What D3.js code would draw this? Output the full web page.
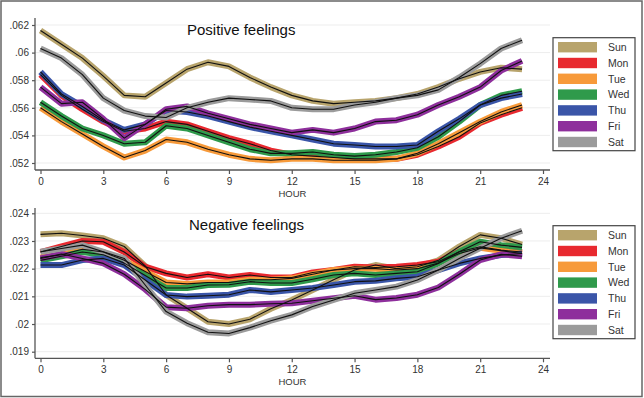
<!DOCTYPE html>
<html>
<head>
<meta charset="utf-8">
<script src="https://cdn.jsdelivr.net/npm/d3@7"></script>
<style>
  body { margin: 0; background: #fff; }
  svg { display: block; font-family: "Liberation Sans", Arial, sans-serif; }
</style>
</head>
<body>
<svg id="chart" width="644" height="398"></svg>
<script>
const hours = [0, 1, 2, 3, 4, 5, 6, 7, 8, 9, 10, 11, 12, 13, 14, 15, 16, 17, 18, 19, 20, 21, 22, 23];
const days = ["Sun", "Mon", "Tue", "Wed", "Thu", "Fri", "Sat"];
const dayColors = ["#b8a46c", "#e8292f", "#f79a3a", "#2f9a4b", "#3a55a8", "#8e2f9c", "#9b9b9b"];

const hourTicks = [0, 3, 6, 9, 12, 15, 18, 21, 24];
const posTicks = [.052, .054, .056, .058, .06, .062];
const posTickLabels = [".052", ".054", ".056", ".058", ".06", ".062"];
const negTicks = [.019, .02, .021, .022, .023, .024];
const negTickLabels = [".019", ".02", ".021", ".022", ".023", ".024"];

// Positive feelings, by hour
const posSun = [.0616, .0606, .0596, .0583, .0569, .0568, .0578, .0588, .0593, .0590, .0582, .0575, .0569, .0565, .0563, .0564, .0565, .0567, .0570, .0575, .0581, .0586, .0589, .0588];
const posMon = [.0584, .0569, .0559, .0550, .0543, .0545, .0550, .0548, .0543, .0538, .0534, .0529, .0526, .0525, .0524, .0523, .0523, .0523, .0526, .0532, .0539, .0549, .0555, .0560];
const posTue = [.0560, .0550, .0541, .0532, .0524, .0529, .0537, .0535, .0530, .0526, .0523, .0522, .0523, .0523, .0522, .0522, .0522, .0523, .0527, .0534, .0542, .0550, .0557, .0562];
const posWed = [.0564, .0554, .0545, .0540, .0534, .0535, .0547, .0545, .0540, .0535, .0530, .0527, .0527, .0528, .0526, .0525, .0526, .0528, .0531, .0539, .0550, .0562, .0569, .0572];
const posThu = [.0586, .0570, .0561, .0551, .0544, .0548, .0558, .0557, .0554, .0550, .0546, .0543, .0540, .0537, .0534, .0533, .0532, .0532, .0533, .0543, .0552, .0562, .0567, .0570];
const posFri = [.0575, .0563, .0564, .0552, .0538, .0548, .0559, .0561, .0556, .0552, .0548, .0545, .0542, .0544, .0542, .0545, .0550, .0551, .0555, .0562, .0568, .0575, .0587, .0594];
const posSat = [.0603, .0596, .0584, .0567, .0558, .0554, .0553, .0560, .0564, .0567, .0566, .0565, .0560, .0559, .0559, .0562, .0564, .0567, .0569, .0573, .0582, .0592, .0603, .0609];

// Negative feelings, by hour
const negSun = [.02324, .02328, .0232, .0231, .0228, .0221, .02105, .02057, .02008, .0200, .02017, .02055, .02087, .02123, .0216, .02195, .02213, .0220, .02207, .0223, .0228, .02322, .0231, .02287];
const negMon = [.0226, .0228, .0230, .02297, .0226, .02207, .02183, .02168, .0218, .02168, .02177, .02168, .02168, .02186, .02195, .02207, .02204, .02207, .02213, .02225, .02261, .02279, .02267, .0226];
const negTue = [.0224, .0225, .0227, .0226, .0223, .0219, .0215, .02145, .0215, .0215, .0216, .0216, .02165, .0218, .02195, .0220, .0220, .02195, .0220, .0222, .02255, .02275, .02265, .02255];
const negWed = [.0223, .02245, .0226, .0225, .0222, .02175, .0213, .0213, .02141, .02142, .02153, .02148, .02148, .02162, .02177, .02183, .02177, .02183, .02189, .02219, .02261, .02297, .02285, .02277];
const negThu = [.02213, .02213, .02231, .02237, .02213, .02159, .02105, .02099, .02102, .02106, .02123, .02116, .02123, .0213, .02141, .02153, .02156, .02165, .02171, .02195, .02219, .02237, .02249, .02255];
const negFri = [.02237, .02253, .02237, .02219, .0218, .02125, .02061, .02057, .02066, .0207, .0207, .02073, .02075, .02084, .02093, .02102, .02088, .02094, .02106, .02132, .0218, .02231, .02252, .02245];
const negSat = [.02261, .02273, .02285, .02261, .02237, .02141, .02045, .02003, .0197, .01966, .01987, .02012, .02033, .02063, .02087, .02111, .02123, .02135, .02159, .02195, .02237, .02274, .0231, .02337];

const svg = d3.select("#chart");

const x = d3.scaleLinear().domain([0, 24]).range([40.5, 543]);
const axisLeftX = 35;
const axisRightX = 550;

const panels = [
  {
    title: "Positive feelings", titleX: 187, titleY: 34.5,
    series: [posSun, posMon, posTue, posWed, posThu, posFri, posSat],
    ticks: posTicks, labels: posTickLabels,
    domain: [.052, .062], range: [163, 25],
    top: 18, axisY: 170, legendTop: 37.7
  },
  {
    title: "Negative feelings", titleX: 189, titleY: 229.5,
    series: [negSun, negMon, negTue, negWed, negThu, negFri, negSat],
    ticks: negTicks, labels: negTickLabels,
    domain: [.019, .024], range: [351.7, 213.3],
    top: 208, axisY: 358.3, legendTop: 225.7
  }
];

const drawPanel = (p) => {
  const y = d3.scaleLinear().domain(p.domain).range(p.range);
  const g = svg.append("g");

  // faint grid
  g.append("g")
    .selectAll("line")
    .data(p.ticks)
    .join("line")
    .attr("x1", axisLeftX)
    .attr("x2", axisRightX)
    .attr("y1", d => y(d))
    .attr("y2", d => y(d))
    .attr("stroke", "#ededed")
    .attr("stroke-width", 1);

  // y axis
  const yAxis = g.append("g")
    .attr("transform", `translate(${axisLeftX},0)`)
    .call(d3.axisLeft(y).tickValues(p.ticks).tickFormat((d, i) => p.labels[i]).tickSize(3).tickPadding(3).tickSizeOuter(0));
  yAxis.select(".domain").remove();
  yAxis.selectAll(".tick line").attr("stroke", "#555").attr("stroke-width", 1.2);
  yAxis.selectAll(".tick text").attr("fill", "#333").style("font-size", "10px").style("font-family", "Liberation Sans, Arial, sans-serif");
  g.append("line")
    .attr("x1", axisLeftX).attr("x2", axisLeftX)
    .attr("y1", p.top).attr("y2", p.axisY)
    .attr("stroke", "#555").attr("stroke-width", 1.3);

  // x axis
  const xAxis = g.append("g")
    .attr("transform", `translate(0,${p.axisY})`)
    .call(d3.axisBottom(x).tickValues(hourTicks).tickSize(4).tickPadding(4).tickSizeOuter(0));
  xAxis.select(".domain").remove();
  xAxis.selectAll(".tick line").attr("stroke", "#555").attr("stroke-width", 1.2);
  xAxis.selectAll(".tick text").attr("fill", "#333").style("font-size", "10px").style("font-family", "Liberation Sans, Arial, sans-serif");
  g.append("line")
    .attr("x1", axisLeftX).attr("x2", axisRightX)
    .attr("y1", p.axisY).attr("y2", p.axisY)
    .attr("stroke", "#555").attr("stroke-width", 1.3);

  g.append("text")
    .attr("x", (axisLeftX + axisRightX) / 2)
    .attr("y", p.axisY + 26.5)
    .attr("text-anchor", "middle")
    .attr("fill", "#333")
    .style("font-size", "9.5px")
    .text("HOUR");

  // bands then center lines
  const line = d3.line()
    .x((d, i) => x(hours[i]))
    .y(d => y(d));

  g.append("g")
    .selectAll("path")
    .data(p.series)
    .join("path")
    .attr("d", line)
    .attr("fill", "none")
    .attr("stroke", (d, i) => dayColors[i])
    .attr("stroke-width", 6)
    .attr("stroke-linejoin", "round");

  g.append("g")
    .selectAll("path")
    .data(p.series)
    .join("path")
    .attr("d", line)
    .attr("fill", "none")
    .attr("stroke", "#111")
    .attr("stroke-width", 1.1)
    .attr("stroke-linejoin", "round");

  // title
  g.append("text")
    .attr("x", p.titleX)
    .attr("y", p.titleY)
    .attr("fill", "#111")
    .style("font-size", "15px")
    .text(p.title);

  // legend
  const lg = g.append("g").attr("transform", `translate(553,${p.legendTop})`);
  lg.append("rect")
    .attr("width", 82).attr("height", 113)
    .attr("fill", "#fff")
    .attr("stroke", "#444").attr("stroke-width", 1.2);
  const row = lg.selectAll("g.row")
    .data(days)
    .join("g")
    .attr("class", "row")
    .attr("transform", (d, i) => `translate(0,${9.5 + i * 15.8})`);
  row.append("rect")
    .attr("x", 5).attr("y", -5.2)
    .attr("width", 39).attr("height", 10.4)
    .attr("fill", (d, i) => dayColors[i]);
  row.append("text")
    .attr("x", 55).attr("y", 3.8)
    .attr("fill", "#333")
    .style("font-size", "10.5px")
    .text(d => d);
};

panels.forEach(drawPanel);

// outer frame
svg.append("rect")
  .attr("x", 1).attr("y", 1)
  .attr("width", 641).attr("height", 395.5)
  .attr("fill", "none")
  .attr("stroke", "#666")
  .attr("stroke-width", 1.5);
</script>
</body>
</html>
